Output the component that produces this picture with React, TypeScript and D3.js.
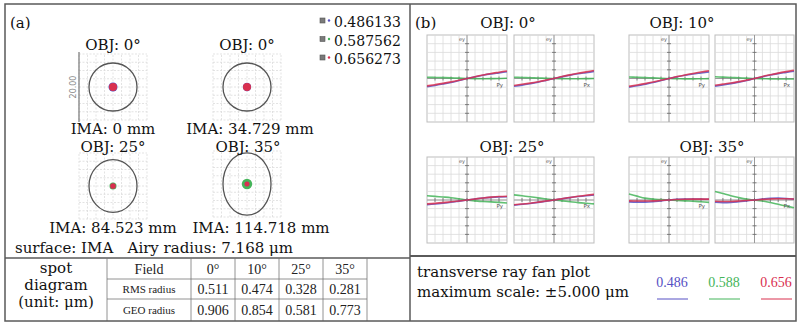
import React from 'react';
import * as d3 from 'd3';

const W = 800;
const H = 324;

// Wavelengths in μm and their plot colours
const wavelengths = ['0.486133', '0.587562', '0.656273'];
const waveShort = ['0.486', '0.588', '0.656'];
const waveColors = ['#5650c4', '#45b55a', '#d9304f'];

// Spot diagram: field labels, image heights, Airy disc
const spotFields = ['OBJ: 0°', 'OBJ: 0°', 'OBJ: 25°', 'OBJ: 35°'];
const spotImages = ['IMA: 0 mm', 'IMA: 34.729 mm', 'IMA: 84.523 mm', 'IMA: 114.718 mm'];
const airyRadius = 7.168; // μm
const airyStretchY = [1, 1, 1.1, 1.3];
const spotScale = 20.0; // μm across the spot box
// Spot extents per wavelength (μm)
const spotBlue = [1.05, 0.95, 0.4, 0.4];
const spotGreen = [0.7, 0.7, 0.75, 1.25];
const spotRed = [0.9, 0.9, 0.55, 0.45];

// Spot size table
const tableFields = ['0°', '10°', '25°', '35°'];
const rmsRadius = [0.511, 0.474, 0.328, 0.281];
const geoRadius = [0.906, 0.854, 0.581, 0.773];

// Ray fan plots: normalised pupil coordinate vs transverse error (μm)
const fanTitles = ['OBJ: 0°', 'OBJ: 10°', 'OBJ: 25°', 'OBJ: 35°'];
const fanAxes = ['Py', 'Px'];
const fanMaxScale = 5.0;
const pupil = [-1, -0.8, -0.6, -0.4, -0.2, 0, 0.2, 0.4, 0.6, 0.8, 1];

const fan0Py = [
  [-0.95, -0.8, -0.63, -0.45, -0.23, 0, 0.2, 0.38, 0.53, 0.65, 0.77],
  [0.15, 0.12, 0.1, 0.07, 0.04, 0, -0.02, -0.03, -0.02, 0, 0.03],
  [-0.85, -0.71, -0.56, -0.39, -0.2, 0, 0.21, 0.4, 0.57, 0.72, 0.87],
];
const fan0Px = [
  [-0.9, -0.76, -0.6, -0.43, -0.22, 0, 0.2, 0.39, 0.54, 0.67, 0.8],
  [0.15, 0.12, 0.09, 0.06, 0.03, 0, -0.02, -0.03, -0.03, -0.02, 0],
  [-0.8, -0.67, -0.53, -0.37, -0.19, 0, 0.22, 0.42, 0.6, 0.76, 0.92],
];
const fan10Py = [
  [-1.0, -0.84, -0.66, -0.47, -0.24, 0, 0.2, 0.38, 0.52, 0.64, 0.76],
  [0.18, 0.14, 0.1, 0.07, 0.03, 0, -0.02, -0.04, -0.04, -0.03, -0.02],
  [-0.9, -0.75, -0.59, -0.41, -0.21, 0, 0.22, 0.41, 0.58, 0.74, 0.9],
];
const fan10Px = [
  [-0.88, -0.74, -0.59, -0.42, -0.22, 0, 0.21, 0.4, 0.56, 0.7, 0.84],
  [0.2, 0.16, 0.12, 0.08, 0.04, 0, -0.02, -0.04, -0.05, -0.05, -0.05],
  [-0.78, -0.65, -0.52, -0.36, -0.19, 0, 0.23, 0.43, 0.62, 0.79, 0.95],
];
const fan25Py = [
  [-0.55, -0.47, -0.37, -0.26, -0.13, 0, 0.12, 0.23, 0.31, 0.36, 0.38],
  [0.5, 0.42, 0.35, 0.27, 0.14, 0, -0.1, -0.18, -0.22, -0.28, -0.35],
  [-0.45, -0.39, -0.31, -0.21, -0.11, 0, 0.12, 0.24, 0.33, 0.4, 0.44],
];
const fan25Px = [
  [-0.6, -0.5, -0.4, -0.28, -0.14, 0, 0.14, 0.28, 0.4, 0.5, 0.58],
  [0.6, 0.5, 0.38, 0.25, 0.12, 0, -0.1, -0.2, -0.3, -0.38, -0.45],
  [-0.55, -0.47, -0.37, -0.25, -0.12, 0, 0.15, 0.3, 0.43, 0.55, 0.65],
];
const fan35Py = [
  [-0.22, -0.25, -0.25, -0.2, -0.1, 0, 0.08, 0.12, 0.12, 0.1, 0.08],
  [0.7, 0.45, 0.22, 0.1, 0.05, 0, -0.05, -0.1, -0.15, -0.2, -0.28],
  [-0.1, -0.12, -0.12, -0.1, -0.05, 0, 0.06, 0.09, 0.1, 0.1, 0.1],
];
const fan35Px = [
  [-0.25, -0.3, -0.28, -0.2, -0.1, 0, 0.12, 0.2, 0.22, 0.18, 0.1],
  [1.0, 0.75, 0.5, 0.28, 0.1, 0, -0.12, -0.3, -0.5, -0.7, -0.9],
  [-0.15, -0.18, -0.17, -0.12, -0.05, 0, 0.07, 0.12, 0.15, 0.15, 0.12],
];
const fanPlots = [fan0Py, fan0Px, fan10Py, fan10Px, fan25Py, fan25Px, fan35Py, fan35Px];

const SERIF = '"DejaVu Serif", "Liberation Serif", serif';
const TIMES = '"Liberation Serif", "Times New Roman", serif';
const SANS = '"DejaVu Sans", Arial, sans-serif';
const BORDER = '#5a5a5a';
const FS = 15;

// ---------- layout ----------
const frame = { x0: 5, y0: 4, x1: 796, y1: 321 };
const splitX = 410;
const tableTop = 258;
const fanBottomLine = 256;

const spotCenters = [
  { x: 113, y: 87 },
  { x: 247, y: 87 },
  { x: 113, y: 186 },
  { x: 247, y: 184 },
];
const spotFieldPos = [
  { x: 113, y: 50 },
  { x: 247, y: 50 },
  { x: 113, y: 152 },
  { x: 248, y: 152 },
];
const spotImagePos = [
  { x: 113, y: 134 },
  { x: 250, y: 134 },
  { x: 113, y: 233 },
  { x: 261, y: 233 },
];

const fanCols = [
  [427, 507],
  [514, 594],
  [629, 709],
  [715, 794],
];
const fanRows = [
  [35, 122],
  [157, 243],
];
const fanTitlePos = [
  { x: 508, y: 28 },
  { x: 682, y: 28 },
  { x: 512, y: 152 },
  { x: 712, y: 152 },
];

function SpotDiagram({ i }: { i: number }) {
  const c = spotCenters[i];
  const px = 67 / spotScale; // px per μm
  const sx = d3.scaleLinear().domain([-spotScale / 2, spotScale / 2]).range([c.x - 34, c.x + 34]);
  const sy = d3.scaleLinear().domain([-spotScale / 2, spotScale / 2]).range([c.y + 33, c.y - 33]);
  const ticks = d3.range(-10, 10.01, 2.5);
  const layers = [
    { r: spotGreen[i], col: waveColors[1] },
    { r: spotBlue[i], col: waveColors[0] },
    { r: spotRed[i], col: waveColors[2] },
  ];
  return (
    <g>
      {ticks.map((t, k) => (
        <line key={'v' + k} x1={sx(t)} x2={sx(t)} y1={sy(-10)} y2={sy(10)}
          stroke="#dcdcdc" strokeWidth={0.8} strokeDasharray="2,1.5" />
      ))}
      {ticks.map((t, k) => (
        <line key={'h' + k} x1={sx(-10)} x2={sx(10)} y1={sy(t)} y2={sy(t)}
          stroke="#dcdcdc" strokeWidth={0.8} strokeDasharray="2,1.5" />
      ))}
      {i === 0 && (
        <g>
          <line x1={sx(-10)} x2={sx(-10)} y1={sy(-10) + 2} y2={sy(10) - 2} stroke="#777" strokeWidth={1.2} />
          <text transform={`translate(${sx(-10) - 3},${c.y}) rotate(-90)`} textAnchor="middle"
            fontFamily={SANS} fontSize={8} fill="#888">20.00</text>
        </g>
      )}
      <ellipse cx={sx(0)} cy={sy(0)} rx={airyRadius * px} ry={airyRadius * px * airyStretchY[i]}
        fill="none" stroke="#555" strokeWidth={1.3} />
      {layers.map((l, k) => (
        <circle key={k} cx={sx(0)} cy={sy(0)} r={l.r * px + 1} fill={l.col} />
      ))}
    </g>
  );
}

function FanPlot({ k }: { k: number }) {
  const [x0, x1] = fanCols[k % 4];
  const [y0, y1] = fanRows[Math.floor(k / 4)];
  const x = d3.scaleLinear().domain([-1, 1]).range([x0, x1]);
  const y = d3.scaleLinear().domain([-fanMaxScale, fanMaxScale]).range([y1, y0]);
  const grid = d3.range(-1, 1.001, 0.2);
  const gridY = d3.range(-fanMaxScale, fanMaxScale + 0.01, 1);
  const line = d3.line<number>()
    .x((_, j) => x(pupil[j]))
    .y((v) => y(v))
    .curve(d3.curveMonotoneX);
  const series = fanPlots[k];
  const order = [1, 0, 2];
  return (
    <g>
      <rect x={x0} y={y0} width={x1 - x0} height={y1 - y0} fill="#fff" stroke="#bdbdbd" strokeWidth={1} />
      {grid.slice(1, -1).map((g, j) => (
        <line key={'gx' + j} x1={x(g)} x2={x(g)} y1={y0} y2={y1} stroke="#dadada" strokeWidth={0.8} />
      ))}
      {gridY.slice(1, -1).map((g, j) => (
        <line key={'gy' + j} x1={x0} x2={x1} y1={y(g)} y2={y(g)} stroke="#dadada" strokeWidth={0.8} />
      ))}
      <line x1={x(0)} x2={x(0)} y1={y0} y2={y1} stroke="#9a9a9a" strokeWidth={1} />
      <line x1={x0} x2={x1} y1={y(0)} y2={y(0)} stroke="#9a9a9a" strokeWidth={1} />
      {gridY.slice(1, -1).map((g, j) => (
        <line key={'ty' + j} x1={x(0) - 2} x2={x(0) + 2} y1={y(g)} y2={y(g)} stroke="#666" strokeWidth={0.8} />
      ))}
      {grid.slice(1, -1).map((g, j) => (
        <line key={'tx' + j} x1={x(g)} x2={x(g)} y1={y(0) - 2} y2={y(0) + 2} stroke="#666" strokeWidth={0.8} />
      ))}
      {order.map((s) => (
        <path key={s} d={line(series[s]) || ''} fill="none" stroke={waveColors[s]}
          strokeWidth={1.6} strokeOpacity={0.85} />
      ))}
      <text x={x(0) - 2} y={y0 + 6} textAnchor="end" fontFamily={SANS} fontSize={5} fill="#555">ey</text>
      <text x={x1 - 4} y={y(0) + 8} textAnchor="end" fontFamily={SANS} fontSize={5.5} fill="#555">
        {fanAxes[k % 2]}
      </text>
    </g>
  );
}

export default function App() {
  // table geometry: label column, field column, four value columns
  const tCols = [frame.x0, 107, 191, 235, 279, 323, 367];
  const tRight = tCols[tCols.length - 1];
  const tRows = [tableTop, 279, 299, frame.y1];
  const valueCols = tableFields.map((_, j) => (tCols[j + 2] + tCols[j + 3]) / 2);

  return (
    <svg width={W} height={H} style={{ position: 'absolute', left: 0, top: 0, background: '#fff' }}>
      <rect x={0} y={0} width={W} height={H} fill="#fff" />

      {/* ----- panel (a): spot diagrams ----- */}
      <text x={10} y={28} fontFamily={SERIF} fontSize={FS} fill="#111">(a)</text>
      {wavelengths.map((w, i) => (
        <g key={w}>
          <rect x={320} y={18 + i * 18.5} width={5} height={5} fill="#7a7a7a" stroke="#555" strokeWidth={0.6} />
          <circle cx={329} cy={20.5 + i * 18.5} r={1.2} fill={waveColors[i]} />
          <text x={334} y={27 + i * 18.5} fontFamily={SERIF} fontSize={14} fill="#111">{w}</text>
        </g>
      ))}
      {spotFields.map((f, i) => (
        <g key={i}>
          <SpotDiagram i={i} />
          <text x={spotFieldPos[i].x} y={spotFieldPos[i].y} textAnchor="middle"
            fontFamily={SERIF} fontSize={FS} fill="#111">{f}</text>
          <text x={spotImagePos[i].x} y={spotImagePos[i].y} textAnchor="middle"
            fontFamily={SERIF} fontSize={FS} fill="#111">{spotImages[i]}</text>
        </g>
      ))}
      <text x={15} y={253} fontFamily={SERIF} fontSize={FS} fill="#111" xmlSpace="preserve">
        {`surface: IMA   Airy radius: ${airyRadius.toFixed(3)} μm`}
      </text>

      {/* spot size table */}
      <line x1={frame.x0} x2={splitX} y1={tableTop} y2={tableTop} stroke={BORDER} strokeWidth={1.5} />
      {tRows.slice(1, -1).map((r, i) => (
        <line key={i} x1={tCols[1]} x2={tRight} y1={r} y2={r} stroke="#777" strokeWidth={0.8} />
      ))}
      {tCols.slice(1).map((c, i) => (
        <line key={i} x1={c} x2={c} y1={tableTop} y2={frame.y1} stroke="#777" strokeWidth={0.8} />
      ))}
      {['spot', 'diagram', '(unit: μm)'].map((t, i) => (
        <text key={t} x={(tCols[0] + tCols[1]) / 2} y={273 + i * 17} textAnchor="middle"
          fontFamily={SERIF} fontSize={FS} fill="#111">{t}</text>
      ))}
      <text x={(tCols[1] + tCols[2]) / 2} y={274} textAnchor="middle" fontFamily={TIMES} fontSize={14} fill="#222">Field</text>
      <text x={(tCols[1] + tCols[2]) / 2} y={293} textAnchor="middle" fontFamily={TIMES} fontSize={11} fill="#222">RMS radius</text>
      <text x={(tCols[1] + tCols[2]) / 2} y={314} textAnchor="middle" fontFamily={TIMES} fontSize={11} fill="#222">GEO radius</text>
      {tableFields.map((f, j) => (
        <g key={f}>
          <text x={valueCols[j]} y={274} textAnchor="middle" fontFamily={TIMES} fontSize={14} fill="#222">{f}</text>
          <text x={valueCols[j]} y={294} textAnchor="middle" fontFamily={TIMES} fontSize={14} fill="#222">{rmsRadius[j].toFixed(3)}</text>
          <text x={valueCols[j]} y={315} textAnchor="middle" fontFamily={TIMES} fontSize={14} fill="#222">{geoRadius[j].toFixed(3)}</text>
        </g>
      ))}

      {/* ----- panel (b): ray fans ----- */}
      <text x={415} y={28} fontFamily={SERIF} fontSize={FS} fill="#111">(b)</text>
      {fanTitles.map((t, i) => (
        <text key={i} x={fanTitlePos[i].x} y={fanTitlePos[i].y} textAnchor="middle"
          fontFamily={SERIF} fontSize={FS} fill="#111">{t}</text>
      ))}
      {fanPlots.map((_, k) => <FanPlot key={k} k={k} />)}

      <line x1={splitX} x2={frame.x1} y1={fanBottomLine} y2={fanBottomLine} stroke={BORDER} strokeWidth={2} />
      <text x={417} y={277} fontFamily={SERIF} fontSize={FS} fill="#111">transverse ray fan plot</text>
      <text x={417} y={297} fontFamily={SERIF} fontSize={FS} fill="#111">
        {`maximum scale: ±${fanMaxScale.toFixed(3)} μm`}
      </text>
      {waveShort.map((w, i) => (
        <g key={w}>
          <text x={672 + i * 52} y={287} textAnchor="middle" fontFamily={TIMES} fontSize={14} fill={waveColors[i]}>{w}</text>
          <line x1={657 + i * 52} x2={688 + i * 52} y1={299} y2={299} stroke={waveColors[i]} strokeWidth={1} />
        </g>
      ))}

      {/* frame */}
      <rect x={frame.x0} y={frame.y0} width={frame.x1 - frame.x0} height={frame.y1 - frame.y0}
        fill="none" stroke={BORDER} strokeWidth={1.5} />
      <line x1={splitX} x2={splitX} y1={frame.y0} y2={frame.y1} stroke={BORDER} strokeWidth={1.5} />
    </svg>
  );
}
